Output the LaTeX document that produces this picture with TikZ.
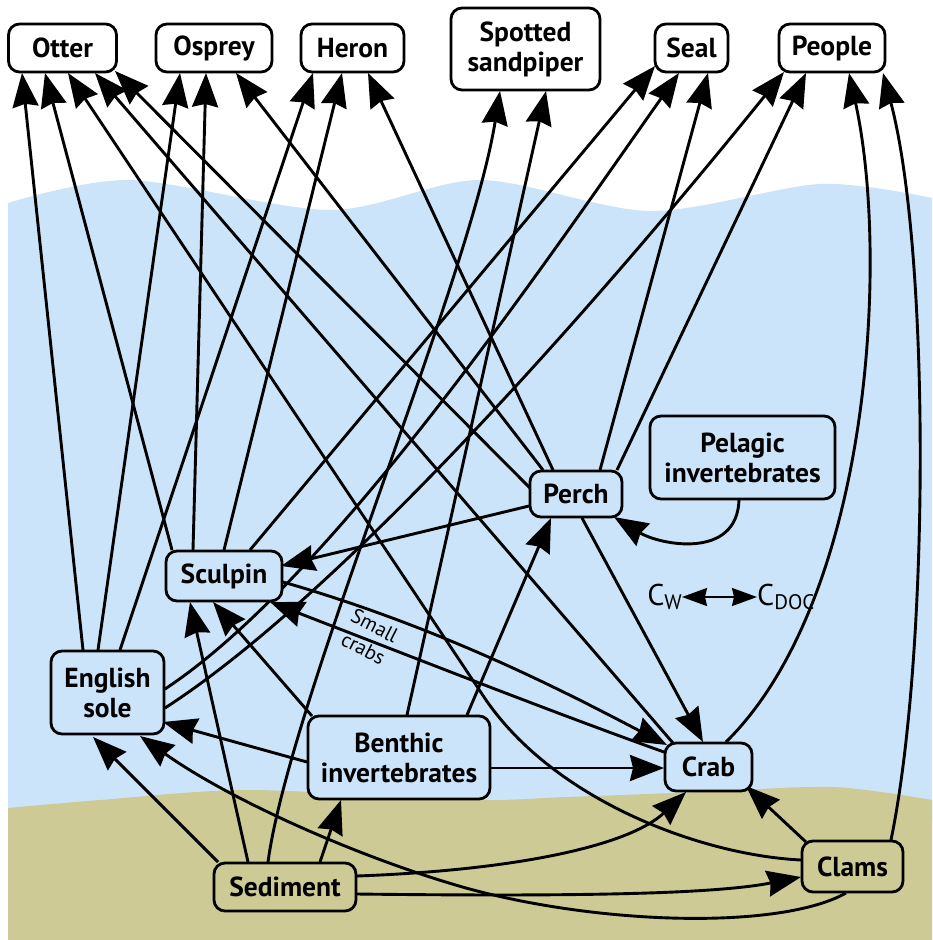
\documentclass[tikz,border=0pt]{standalone}
\usepackage{fontspec}
\setmainfont{PT Sans}
\usetikzlibrary{arrows.meta}
\pgfdeclarelayer{sea}
\pgfdeclarelayer{links}
\pgfsetlayers{sea,links,main}
\definecolor{water}{RGB}{204,228,250}
\definecolor{mud}{RGB}{205,202,149}
\tikzset{
  box/.style={draw=black, line width=2.8pt, rounded corners=11pt, align=center,
    inner sep=0pt, font=\fontsize{27.5}{30}\selectfont\bfseries},
  sky/.style={box, fill=white},
  wet/.style={box, fill=water},
  dirt/.style={box, fill=mud},
  feed/.style={line width=2.9pt, -{Stealth[length=34pt,width=26pt,inset=3pt]}},
  swap/.style={line width=1.8pt, {Stealth[length=25pt,width=18pt,inset=2pt]}-{Stealth[length=25pt,width=18pt,inset=2pt]}},
}
\begin{document}
\begin{tikzpicture}[x=1pt,y=-1pt]
\useasboundingbox (0,0) rectangle (932,940);

% air, water column and sediment
\begin{pgfonlayer}{sea}
  \fill[white] (0,0) rectangle (932,940);
  \fill[water] plot[smooth] coordinates {(8,203) (130,180) (330,210) (480,180) (650,211) (820,184) (932,198)}
    -- (932,820) -- (8,820) -- cycle;
  \fill[mud] plot[smooth] coordinates {(8,808) (100,800) (250,790) (466,800) (566,797) (700,792) (833,787) (932,800)}
    -- (932,940) -- (8,940) -- cycle;
\end{pgfonlayer}

% consumers above the water
\node[sky, minimum width=108pt, minimum height=48pt] (otter)  at (62.5,48)  {Otter};
\node[sky, minimum width=116pt, minimum height=48pt] (osprey) at (214,48)   {Osprey};
\node[sky, minimum width=103pt, minimum height=48pt] (heron)  at (352.5,48) {Heron};
\node[sky, minimum width=149pt, minimum height=82pt] (sandp)  at (525.5,49) {Spotted\\sandpiper};
\node[sky, minimum width=73pt,  minimum height=48pt] (seal)   at (691.5,48) {Seal};
\node[sky, minimum width=106pt, minimum height=48pt] (people) at (832,48)   {People};

% organisms in the water
\node[wet, minimum width=185pt, minimum height=83pt] (pelagic) at (742.5,457.5) {Pelagic\\invertebrates};
\node[wet, minimum width=92pt,  minimum height=46pt] (perch)   at (576,494)     {Perch};
\node[wet, minimum width=116pt, minimum height=50pt] (sculpin) at (224,576)     {Sculpin};
\node[wet, minimum width=113pt, minimum height=83pt] (sole)    at (107.5,692.5) {English\\sole};
\node[wet, minimum width=182pt, minimum height=83pt] (benthic) at (399,757.5)   {Benthic\\invertebrates};
\node[wet, minimum width=87pt,  minimum height=48pt] (crab)    at (708.5,767)   {Crab};

% sediment compartment
\node[dirt, minimum width=101pt, minimum height=51pt] (clams)    at (852.5,866.5) {Clams};
\node[dirt, minimum width=142pt, minimum height=48pt] (sediment) at (285,887)     {Sediment};

% water / dissolved organic carbon exchange
\node[inner sep=0pt, anchor=east, font=\fontsize{30}{32}\selectfont] (cw) at (682,597)
  {C\raisebox{-0.3ex}{\fontsize{21}{22}\selectfont W}};
\node[inner sep=0pt, anchor=west, font=\fontsize{30}{32}\selectfont] (cdoc) at (757,597)
  {C\raisebox{-0.3ex}{\fontsize{21}{22}\selectfont DOC}};
\draw[swap] (cw.east) -- (cdoc.west);

\node[rotate=-27, inner sep=0pt, align=center, font=\fontsize{20.5}{25}\selectfont] (smallcrabs) at (369,637) {Small\\crabs};

\begin{pgfonlayer}{links}
  % Otter
  \draw[feed] ([shift={(-24.5,-42.5)}]sole.center) -- ([shift={(-40.5,25)}]otter.center);
  \draw[feed] ([shift={(-52,-26)}]sculpin.center) -- ([shift={(-17.5,25)}]otter.center);
  \draw[feed] ([shift={(-51.5,-6.5)}]clams.center) .. controls (700,855) and (555,800) .. (486,700)
     -- ([shift={(5.5,25)}]otter.center);
  \draw[feed] ([shift={(-35.5,-24)}]crab.center) -- ([shift={(32.5,25)}]otter.center);
  \draw[feed] ([shift={(-46,-6)}]perch.center) -- ([shift={(52.5,23)}]otter.center);
  % Osprey
  \draw[feed] ([shift={(-9.5,-42.5)}]sole.center) -- ([shift={(-34,25)}]osprey.center);
  \draw[feed] ([shift={(-31,-26)}]sculpin.center) -- ([shift={(-8,25)}]osprey.center);
  \draw[feed] ([shift={(-33,-24)}]perch.center) -- ([shift={(22,25)}]osprey.center);
  % Heron
  \draw[feed] ([shift={(12.5,-42.5)}]sole.center) -- ([shift={(-39.5,25)}]heron.center);
  \draw[feed] ([shift={(0,-26)}]sculpin.center) -- ([shift={(-10.5,25)}]heron.center);
  \draw[feed] ([shift={(-23,-24)}]perch.center) -- ([shift={(15.5,25)}]heron.center);
  % Spotted sandpiper
  \draw[feed] ([shift={(-17,-25)}]sediment.center) .. controls (290,700) and (470,280) .. ([shift={(-25.5,42)}]sandp.center);
  \draw[feed] ([shift={(8,-42.5)}]benthic.center) -- ([shift={(20.5,42)}]sandp.center);
  % Seal
  \draw[feed] ([shift={(26,-26)}]sculpin.center) -- ([shift={(-36.5,18)}]seal.center);
  \draw[feed] ([shift={(57.5,-3.5)}]sole.center) .. controls (330,580) and (538,273) .. ([shift={(-12.5,25)}]seal.center);
  \draw[feed] ([shift={(24,-24)}]perch.center) -- ([shift={(16.5,25)}]seal.center);
  % People
  \draw[feed] ([shift={(57.5,15.5)}]sole.center) .. controls (340,595) and (592,310) .. ([shift={(-48,24)}]people.center);
  \draw[feed] ([shift={(41,-24)}]perch.center) -- ([shift={(-26,25)}]people.center);
  \draw[feed] ([shift={(17.5,-25)}]crab.center) .. controls (870,600) and (890,260) .. ([shift={(17,25)}]people.center);
  \draw[feed] ([shift={(38.5,-26.5)}]clams.center) .. controls (930,650) and (930,250) .. ([shift={(51,25)}]people.center);
  % Crab
  \draw[feed] ([shift={(6,24)}]perch.center) -- ([shift={(-5.5,-25)}]crab.center);
  \draw[feed] ([shift={(59,6)}]sculpin.center) .. controls (450,630) and (580,700) .. ([shift={(-41.5,-22)}]crab.center);
  \draw[feed] ([shift={(92,10.5)}]benthic.center) -- ([shift={(-44.5,1)}]crab.center);
  \draw[feed] ([shift={(72,-11)}]sediment.center) .. controls (520,870) and (630,845) .. ([shift={(-22.5,25)}]crab.center);
  \draw[feed] ([shift={(-46.5,-24.5)}]clams.center) -- ([shift={(37.5,19)}]crab.center);
  % Clams
  \draw[feed] ([shift={(72,7)}]sediment.center) .. controls (600,897) and (720,893) .. ([shift={(-51.5,10.5)}]clams.center);
  % Sculpin
  \draw[feed] ([shift={(-44.5,-15)}]crab.center) .. controls (560,715) and (420,660) .. ([shift={(46,26)}]sculpin.center);
  \draw[feed] ([shift={(-47,12)}]perch.center) -- ([shift={(57,-10)}]sculpin.center);
  \draw[feed] ([shift={(-37,-25)}]sediment.center) -- ([shift={(-34,26)}]sculpin.center);
  \draw[feed] ([shift={(-87,-41.5)}]benthic.center) -- ([shift={(-11,26)}]sculpin.center);
  % English sole
  \draw[feed] ([shift={(-6.5,26.5)}]clams.center) .. controls (780,930) and (600,925) .. (466,888)
     .. controls (360,858) and (230,800) .. ([shift={(32.5,43.5)}]sole.center);
  \draw[feed] ([shift={(-67,-25)}]sediment.center) -- ([shift={(-14.5,44.5)}]sole.center);
  \draw[feed] ([shift={(-92,4.5)}]benthic.center) -- ([shift={(55.5,29.5)}]sole.center);
  % Benthic invertebrates and Perch
  \draw[feed] ([shift={(35,-25)}]sediment.center) -- ([shift={(-58,42.5)}]benthic.center);
  \draw[feed] ([shift={(68,-42.5)}]benthic.center) -- ([shift={(-25,24)}]perch.center);
  \draw[feed] ([shift={(-3.5,42.5)}]pelagic.center) .. controls (737,560) and (660,545) .. ([shift={(38,23)}]perch.center);
\end{pgfonlayer}
\end{tikzpicture}
\end{document}
